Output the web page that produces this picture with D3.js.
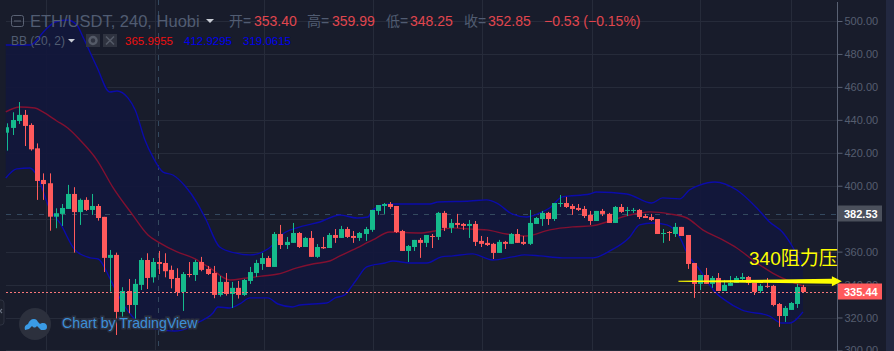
<!DOCTYPE html>
<html>
<head>
<meta charset="utf-8">
<script src="https://cdn.jsdelivr.net/npm/d3@7"></script>
<style>
html, body { margin: 0; padding: 0; background: #181c2b; overflow: hidden; }
text { font-family: "Liberation Sans", "Noto Sans CJK SC", sans-serif; }
</style>
</head>
<body>
<svg id="drawing_region"></svg>
<script>
// candles
const opens = [
  432.2,435.1,439.3,443.0,436.9,422.7,403.5,401.5,381.2,382.9,
  385.9,395.0,384.0,391.4,385.3,387.7,381.1,356.2,358.0,323.4,
  336.1,327.6,339.8,354.9,344.4,353.7,353.1,348.9,344.0,335.5,
  346.4,345.8,353.7,349.5,347.0,333.7,341.6,334.3,338.0,333.7,
  342.2,347.0,352.5,356.1,350.7,370.7,364.0,365.3,371.3,362.8,
  368.3,356.8,362.8,362.2,370.1,368.3,373.7,369.5,368.3,370.7,
  373.2,384.7,387.7,388.9,387.7,372.5,360.4,362.8,367.1,365.3,
  369.5,368.9,383.5,374.4,377.4,376.8,375.6,376.8,366.5,365.3,
  364.7,359.2,365.9,364.7,370.7,365.9,364.7,376.8,379.8,383.5,
  379.8,388.9,389.5,387.7,386.5,385.9,382.3,378.6,384.7,382.9,
  377.4,387.1,384.7,384.7,385.3,381.6,381.0,379.8,370.7,371.9,
  370.7,375.0,370.1,353.1,340.4,345.8,340.4,344.0,336.1,339.2,
  341.0,343.4,344.6,341.0,336.1,339.2,339.2,328.2,320.9,324.6,328.2,338.5]
const closes = [
  435.5,439.9,443.0,436.3,422.1,402.9,401.0,381.2,383.3,386.5,
  395.0,384.0,391.4,385.3,387.7,380.4,356.2,358.0,323.4,336.1,
  327.6,340.4,354.9,344.0,353.7,352.5,348.1,343.4,335.5,346.4,
  345.8,353.7,348.9,346.4,333.7,341.6,334.3,338.0,333.7,342.8,
  347.6,353.1,356.1,350.7,370.7,364.0,365.9,371.3,362.8,368.3,
  356.8,362.8,362.0,370.1,368.3,373.7,368.9,368.3,371.3,373.7,
  385.3,388.3,388.9,387.1,371.9,360.4,363.4,367.1,365.3,370.1,
  368.9,383.5,374.4,377.4,376.2,375.6,376.8,365.9,364.7,364.0,
  359.2,365.9,364.7,370.7,365.3,364.7,377.4,380.4,383.5,379.8,
  389.5,389.5,387.1,385.9,385.3,381.6,378.6,384.7,382.9,377.4,
  387.1,384.1,385.3,385.3,381.0,380.4,379.2,370.7,371.3,371.3,
  375.0,369.5,352.5,340.4,345.8,340.4,344.0,336.1,339.8,341.0,
  344.0,344.6,341.0,335.5,339.2,338.6,327.6,320.9,325.8,328.8,338.5,335.5]
const highs = [
  437.9,444.6,450.8,446.0,437.9,425.7,407.5,407.5,386.3,388.9,
  400.5,399.1,392.2,393.0,395.0,388.9,381.1,361.0,359.4,338.4,
  343.4,343.4,356.2,359.0,356.1,360.4,359.0,351.5,349.9,347.6,
  353.7,355.0,356.8,351.3,351.3,345.2,347.0,341.6,342.2,343.4,
  350.7,355.0,359.2,357.4,371.9,376.2,368.9,377.4,371.9,368.9,
  372.5,364.6,368.9,371.3,373.7,375.6,375.0,372.5,371.9,375.0,
  385.3,388.3,389.5,390.1,387.7,373.2,364.0,367.1,368.3,370.1,
  370.7,384.1,384.7,379.8,382.9,377.4,379.2,378.6,369.5,368.9,
  365.3,367.1,366.5,371.3,373.7,369.5,385.3,381.0,384.7,384.1,
  389.5,394.4,393.2,388.9,388.9,387.7,384.7,384.7,385.9,383.5,
  387.7,388.9,387.1,386.5,385.9,382.9,382.9,379.8,373.7,372.5,
  377.4,375.0,370.1,353.1,345.8,350.1,345.2,347.0,342.8,345.2,
  345.2,347.0,345.2,341.0,340.4,344.0,339.8,328.8,327.0,329.4,340.4,339.8]
const lows = [
  421.3,430.8,437.5,424.1,421.3,391.4,391.4,372.7,374.2,375.6,
  385.9,359.4,376.2,384.7,382.3,378.8,347.6,335.7,309.4,318.5,
  322.6,316.5,336.7,337.3,341.2,346.4,344.4,337.7,333.1,324.0,
  344.4,342.2,348.1,345.8,331.7,332.7,333.3,325.8,331.5,333.1,
  340.4,344.6,348.9,350.7,350.7,361.6,361.6,365.3,362.2,362.8,
  356.8,356.2,361.6,362.2,365.3,368.3,368.3,365.3,366.5,366.5,
  372.0,382.3,382.9,385.9,371.3,360.4,353.7,360.4,356.2,362.8,
  362.2,367.1,372.5,371.3,374.4,373.2,368.3,363.4,362.8,363.4,
  355.5,359.2,361.6,364.7,365.3,364.0,364.0,376.8,375.6,376.2,
  378.6,387.1,386.5,382.3,384.7,380.4,376.2,378.6,381.6,377.4,
  377.4,383.5,381.6,383.5,379.8,380.4,378.6,370.7,365.3,366.5,
  368.9,369.5,349.5,331.9,336.7,340.4,338.0,336.1,336.1,339.2,
  341.0,341.6,339.8,333.7,334.9,337.9,326.8,314.3,317.3,324.6,325.8,334.9]

// bollinger bands, bar position and price read at the bends of each line
const upperBars = [-0.2,3.8,6.3,7.9,9.9,11.5,12.5,14.8,16.9,18.1,19.9,21.1,22.7,24.0,25.7,27.3,29.3,31.3,32.7,35.0,37.5,40.0,42.1,44.1,45.2,47.7,51.5,54.8,57.6,59.4,60.2,63.0,69.6,70.9,76.2,78.9,80.6,83.1,85.5,87.7,89.3,91.4,95.9,97.0,102,106.1,107.9,110.7,112.3,114,116.5,120.1,123.4,125.5,127.6,129.3,131]
const upperVals = [485.4,485.4,494.5,499.4,500.6,497.6,490.3,472.1,456.9,457.5,453.3,446.0,427.8,417.5,408.3,406.5,399.8,389.5,379.8,362.8,359.2,358,359.8,365.3,370.1,374.4,378,382.2,380.4,381,385.3,388.9,388.9,390.1,390.7,391.4,389.5,382.9,381,383.5,386.5,393.2,395,396.2,395,389.5,392.6,392,397.4,400.4,402.3,397.4,386.5,378,371.9,362.8,350.7]
const lowerBars = [-0.2,1.6,3.8,4.9,7.1,8.7,11.2,13.7,15,16.9,18.1,20.7,23.5,27.6,30.1,31.3,33.9,34.7,36.7,38.3,40,42.9,44.6,47,48.2,52.6,54,55.6,56.4,57.6,59.2,62.2,63.5,66.3,69.1,71.5,73.4,76.6,79.9,83.2,85.2,87.7,91.4,96.4,99.2,102.5,104.1,106.3,108.6,110.7,111.9,114,116.5,118.1,120.9,125.5,127.5,128.8,131]
const lowerVals = [404.7,410.2,410.8,406.5,385.3,377.4,361,356.2,355.5,344,334.9,320.3,313.7,311.8,314.2,316.7,322.7,326.4,325.8,328.2,331.9,331.9,328.2,326.4,327.6,328.8,331.9,333.7,337.3,343.4,350.7,353.1,354.3,353.1,353.1,356.8,357.4,358.6,354.9,356.8,358,357.4,356.2,356.2,360.4,368.9,376.2,377.4,376.2,368.9,359.2,348.9,335.5,330.7,324.6,320.9,316.7,316.7,323.4]
const basisBars = [-0.2,2.1,4.6,5.9,8.2,10,12,14.8,17.4,20.7,23.2,25.2,28,30.6,33.4,36.7,39.5,42.1,44.6,47.7,50.3,53.1,54.8,56.9,60.2,63,67.9,70.4,73.4,75.8,78.9,82.2,85.5,89.3,93.1,96.2,99.2,102.5,105.8,109,111.9,114.5,117.8,120.1,123.4,126,128.3,131]
const basisVals = [444.8,447.8,447.2,444.8,439.3,435,427.8,415.6,399.2,382.2,370.1,365.2,359.8,356.2,350.1,342.8,344,345.2,346.4,350.1,352.5,354.3,357.4,361,367.1,371.9,371.3,372.5,374.4,373.8,373.2,370.7,369.5,373.2,375,375.6,378.6,382.2,384.1,382.9,380.4,373.2,367.1,362.2,353.1,347,342.8,339.1]

const gridPrices = [300,320,340,360,380,400,420,440,460,480,500]
// 380 is hidden by the 382.53 label in the reference, so no tick text there
const priceTicks = [300,320,340,360,400,420,440,460,480,500]
const lastPrice = 335.44
const markPrice = 382.53
const arrowPrice = 342
const headerLabels = ['开','高','低','收']
const headerValues = ['353.40','359.99','348.25','352.85']
const bbValues = ['365.9955','412.9295','319.0615']

const width = 894
const height = 351
const plotLeft = 6
const axisX = 837.5
const upColor = '#15ba8c'
const downColor = '#ff5a5c'
const bandColor = '#0b0bab'
const basisColor = '#821030'
const gridColor = '#262b3a'
const textGray = '#515c72'

const svg = d3.select('#drawing_region').attr('width', width).attr('height', height)

const xscale = d3.scaleLinear().domain([0, 131]).range([7, 803])
const yscale = d3.scaleLinear().domain([320, 500]).range([317.5, 21])

svg.append('rect').attr('width', width).attr('height', height).attr('fill', '#181c2b')
svg.append('rect').attr('x', 886).attr('width', 8).attr('height', height).attr('fill', '#222840')

// grid
const grid = svg.append('g').attr('stroke', gridColor).attr('stroke-width', 1)
grid.selectAll('line.h').data(gridPrices).enter().append('line')
  .attr('x1', plotLeft).attr('x2', axisX)
  .attr('y1', d => Math.round(yscale(d)) + 0.5).attr('y2', d => Math.round(yscale(d)) + 0.5)
const gridBars = [6.4, 24.3, 42.3, 60.2, 78.1, 96.2, 114, 129]
grid.selectAll('line.v').data(gridBars).enter().append('line')
  .attr('x1', d => Math.round(xscale(d)) + 0.5).attr('x2', d => Math.round(xscale(d)) + 0.5)
  .attr('y1', 0).attr('y2', height)

// bollinger fill and lines
const upperPts = upperBars.map((b, i) => [b, upperVals[i]])
const lowerPts = lowerBars.map((b, i) => [b, lowerVals[i]])
const basisPts = basisBars.map((b, i) => [b, basisVals[i]])
const line = d3.line().x(d => xscale(d[0])).y(d => yscale(d[1])).curve(d3.curveMonotoneX)
const polygon = d3.line().x(d => xscale(d[0])).y(d => yscale(d[1]))

svg.append('path')
  .attr('d', polygon(upperPts.concat(lowerPts.slice().reverse())) + 'Z')
  .attr('fill', '#12173c').attr('fill-opacity', 0.92)

// crosshair style dashed lines
svg.append('line')
  .attr('x1', Math.round(xscale(25)) - 0.5).attr('x2', Math.round(xscale(25)) - 0.5)
  .attr('y1', 0).attr('y2', height)
  .attr('stroke', '#34495f').attr('stroke-dasharray', '5 6')
svg.append('line')
  .attr('x1', plotLeft).attr('x2', axisX)
  .attr('y1', Math.round(yscale(markPrice)) + 0.5).attr('y2', Math.round(yscale(markPrice)) + 0.5)
  .attr('stroke', '#34495f').attr('stroke-dasharray', '5 6')

const bands = [[upperPts, bandColor], [lowerPts, bandColor], [basisPts, basisColor]]
svg.selectAll('path.band').data(bands).enter().append('path')
  .attr('class', 'band')
  .attr('d', d => line(d[0]))
  .attr('fill', 'none')
  .attr('stroke', d => d[1])
  .attr('stroke-width', 1.4)

// candles
const bars = svg.append('g')
const candles = d3.range(opens.length)
const barColor = i => closes[i] >= opens[i] ? upColor : downColor
bars.selectAll('rect.wick').data(candles).enter().append('rect')
  .attr('class', 'wick')
  .attr('x', i => Math.round(xscale(i)))
  .attr('y', i => yscale(highs[i]))
  .attr('width', 1)
  .attr('height', i => yscale(lows[i]) - yscale(highs[i]))
  .attr('fill', barColor)
bars.selectAll('rect.body').data(candles).enter().append('rect')
  .attr('class', 'body')
  .attr('x', i => Math.max(plotLeft, Math.round(xscale(i)) - 2))
  .attr('y', i => yscale(Math.max(opens[i], closes[i])))
  .attr('width', i => i === 0 ? 3 : 5)
  .attr('height', i => Math.max(1, Math.abs(yscale(opens[i]) - yscale(closes[i]))))
  .attr('fill', barColor)

// last price dotted line
svg.append('line')
  .attr('x1', plotLeft).attr('x2', axisX)
  .attr('y1', Math.round(yscale(lastPrice)) + 0.5).attr('y2', Math.round(yscale(lastPrice)) + 0.5)
  .attr('stroke', '#f9777a').attr('stroke-dasharray', '2 2')

// price axis
const yaxis = d3.axisRight(yscale).tickValues(priceTicks).tickSize(5).tickPadding(2).tickFormat(d3.format('.2f'))
const yaxis_group = svg.append('g').attr('transform', `translate(${axisX},0)`).call(yaxis)
yaxis_group.select('.domain').remove()
yaxis_group.selectAll('line').attr('stroke', '#596173')
yaxis_group.selectAll('text').attr('fill', '#565e70').attr('font-size', 11)
  .attr('font-family', '"Liberation Sans", sans-serif')
svg.append('line').attr('x1', axisX).attr('x2', axisX).attr('y1', 2).attr('y2', height)
  .attr('stroke', '#596173')

// price labels on the axis
const labels = [[markPrice, '#4b505c'], [lastPrice, '#ff5a5c']]
labels.forEach(d => {
  const y = Math.round(yscale(d[0])) - 0.5
  svg.append('rect').attr('x', 838).attr('y', y - 8).attr('width', 44).attr('height', 16).attr('fill', d[1])
  svg.append('text').attr('x', 844).attr('y', y + 4).attr('fill', '#fff')
    .attr('font-size', 11).attr('font-weight', 'bold').text(d[0].toFixed(2))
})

// header
svg.append('rect').attr('x', 11.5).attr('y', 15.5).attr('width', 12).attr('height', 11).attr('rx', 2)
  .attr('fill', 'none').attr('stroke', '#5a6274')
svg.append('line').attr('x1', 14).attr('x2', 21).attr('y1', 21).attr('y2', 21).attr('stroke', '#5a6274')
svg.append('text').attr('x', 30).attr('y', 27).attr('fill', textGray).attr('font-size', 16.5)
  .text('ETH/USDT, 240, Huobi')
svg.append('path').attr('d', 'M206,19h8l-4,4Z').attr('fill', '#c9cdd6')

const labelX = [229, 307, 386, 464]
const valueX = [254, 332, 410, 488]
headerLabels.forEach((d, i) => {
  svg.append('text').attr('x', labelX[i]).attr('y', 26).attr('fill', textGray).attr('font-size', 14).text(d + '=')
  svg.append('text').attr('x', valueX[i]).attr('y', 26).attr('fill', '#e0464e').attr('font-size', 14).text(headerValues[i])
})
svg.append('text').attr('x', 544).attr('y', 26).attr('fill', '#e0464e').attr('font-size', 14).text('\u22120.53 (\u22120.15%)')

svg.append('text').attr('x', 11).attr('y', 45).attr('fill', textGray).attr('font-size', 12).text('BB (20, 2)')
svg.append('path').attr('d', 'M68,39h7l-3.5,3.5Z').attr('fill', '#c9cdd6')
svg.append('rect').attr('x', 86).attr('y', 34).attr('width', 14).attr('height', 13).attr('fill', '#2f3340')
svg.append('rect').attr('x', 103).attr('y', 34).attr('width', 14).attr('height', 13).attr('fill', '#2f3340')
svg.append('circle').attr('cx', 93).attr('cy', 40.5).attr('r', 3.5).attr('fill', 'none').attr('stroke', '#555b68').attr('stroke-width', 2.5)
svg.append('path').attr('d', 'M106,36.5l8,8M114,36.5l-8,8').attr('stroke', '#555b68').attr('stroke-width', 1.5)
const bbX = [125, 184, 243]
const bbColors = ['#ee1010', '#0000ee', '#0000ee']
bbValues.forEach((d, i) => {
  svg.append('text').attr('x', bbX[i]).attr('y', 45).attr('fill', bbColors[i]).attr('font-size', 11.5).text(d)
})

// annotation
const ay = yscale(arrowPrice)
const arrowStart = xscale(110.5)
const arrowTip = xscale(137.4)
const headBase = arrowTip - 10
svg.append('path')
  .attr('d', `M${arrowStart},${ay - 0.5}L${headBase},${ay - 2.5}L${headBase},${ay - 5}L${arrowTip},${ay}L${headBase},${ay + 5}L${headBase},${ay + 2.5}L${arrowStart},${ay + 0.5}Z`)
  .attr('fill', '#ffff00')
svg.append('text').attr('x', 749).attr('y', 265).attr('fill', '#ffff00').attr('font-size', 19)
  .attr('font-family', '"Liberation Sans", "Noto Sans CJK SC", sans-serif').text('340阻力压')

// logo
svg.append('rect').attr('x', -8).attr('y', 300).attr('width', 12).attr('height', 25).attr('rx', 3)
  .attr('fill', '#1c202d').attr('stroke', '#2c3140')
svg.append('path').attr('d', 'M-2,309l4,4M2,309l-4,4').attr('stroke', '#6a7180').attr('stroke-width', 1.2)
svg.append('circle').attr('cx', 35).attr('cy', 324).attr('r', 16).attr('fill', '#2c303d')
svg.append('path')
  .attr('d', 'M25,330c-1,-3 0,-5 3,-6c1,-3 3,-5 6,-5c2,0 3,1 4,3l2,2c1,-1 2,-1 3,-1c3,0 4,2 4,4c0,2 -1,3 -3,3h-3l-4,-4c-2,2 -3,2 -5,0l-3,3Z')
  .attr('fill', '#3a9be6')
svg.append('text').attr('x', 62).attr('y', 328).attr('fill', '#3d8fd8').attr('font-size', 14.2)
  .attr('stroke', '#2b3040').attr('stroke-width', 3).attr('paint-order', 'stroke')
  .text('Chart by TradingView')
</script>
</body>
</html>
